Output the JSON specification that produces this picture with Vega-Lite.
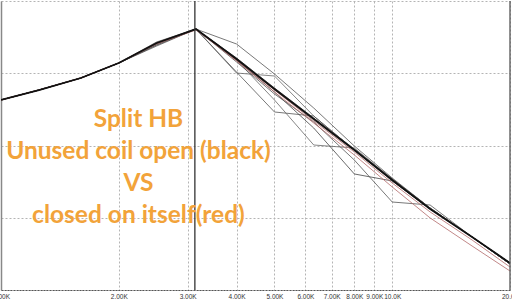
{
  "$schema": "https://vega.github.io/schema/vega-lite/v6.json",
  "width": 509,
  "height": 289,
  "autosize": "none",
  "padding": {"left": 1, "top": 1, "right": 2, "bottom": 10},
  "background": "white",
  "config": {"view": {"stroke": null}},
  "datasets": {
    "traces": [
      {"s":"B2","g":"k","f":1000,"v":-13.70},{"s":"B2","g":"k","f":1250,"v":-12.32},{"s":"B2","g":"k","f":1600,"v":-10.66},{"s":"B2","g":"k","f":2000,"v":-8.58},{"s":"B2","g":"k","f":2500,"v":-5.95},{"s":"B2","g":"k","f":3150,"v":-3.88},{"s":"B2","g":"k","f":4000,"v":-7.89},{"s":"B2","g":"k","f":5000,"v":-12.04},{"s":"B2","g":"k","f":6300,"v":-16.19},{"s":"B2","g":"k","f":8000,"v":-20.48},{"s":"B2","g":"k","f":10000,"v":-24.64},{"s":"B2","g":"k","f":12500,"v":-28.65},{"s":"B2","g":"k","f":16000,"v":-32.66},{"s":"B2","g":"k","f":20000,"v":-36.40},
      {"s":"B3","g":"k","f":1000,"v":-13.70},{"s":"B3","g":"k","f":1250,"v":-12.32},{"s":"B3","g":"k","f":1600,"v":-10.66},{"s":"B3","g":"k","f":2000,"v":-8.58},{"s":"B3","g":"k","f":2500,"v":-5.67},{"s":"B3","g":"k","f":3150,"v":-3.88},{"s":"B3","g":"k","f":4000,"v":-5.95},{"s":"B3","g":"k","f":5000,"v":-10.10},{"s":"B3","g":"k","f":6300,"v":-14.81},{"s":"B3","g":"k","f":8000,"v":-20.07},{"s":"B3","g":"k","f":10000,"v":-24.50},{"s":"B3","g":"k","f":12500,"v":-28.65},{"s":"B3","g":"k","f":16000,"v":-32.66},{"s":"B3","g":"k","f":20000,"v":-36.40},
      {"s":"B4","g":"k","f":1000,"v":-13.70},{"s":"B4","g":"k","f":1250,"v":-12.32},{"s":"B4","g":"k","f":1600,"v":-10.66},{"s":"B4","g":"k","f":2000,"v":-8.58},{"s":"B4","g":"k","f":2500,"v":-6.09},{"s":"B4","g":"k","f":3150,"v":-3.88},{"s":"B4","g":"k","f":4000,"v":-9.97},{"s":"B4","g":"k","f":5000,"v":-10.38},{"s":"B4","g":"k","f":6300,"v":-15.92},{"s":"B4","g":"k","f":8000,"v":-20.62},{"s":"B4","g":"k","f":10000,"v":-24.78},{"s":"B4","g":"k","f":12500,"v":-28.79},{"s":"B4","g":"k","f":16000,"v":-32.66},{"s":"B4","g":"k","f":20000,"v":-36.26},
      {"s":"B5","g":"k","f":1000,"v":-13.70},{"s":"B5","g":"k","f":1250,"v":-12.32},{"s":"B5","g":"k","f":1600,"v":-10.66},{"s":"B5","g":"k","f":2000,"v":-8.58},{"s":"B5","g":"k","f":2500,"v":-6.23},{"s":"B5","g":"k","f":3150,"v":-3.88},{"s":"B5","g":"k","f":4000,"v":-9.83},{"s":"B5","g":"k","f":5000,"v":-15.36},{"s":"B5","g":"k","f":6300,"v":-15.92},{"s":"B5","g":"k","f":8000,"v":-20.62},{"s":"B5","g":"k","f":10000,"v":-24.91},{"s":"B5","g":"k","f":12500,"v":-28.79},{"s":"B5","g":"k","f":16000,"v":-32.66},{"s":"B5","g":"k","f":20000,"v":-36.26},
      {"s":"B6","g":"k","f":1000,"v":-13.70},{"s":"B6","g":"k","f":1250,"v":-12.32},{"s":"B6","g":"k","f":1600,"v":-10.66},{"s":"B6","g":"k","f":2000,"v":-8.58},{"s":"B6","g":"k","f":2500,"v":-5.95},{"s":"B6","g":"k","f":3150,"v":-3.88},{"s":"B6","g":"k","f":4000,"v":-8.17},{"s":"B6","g":"k","f":5000,"v":-13.70},{"s":"B6","g":"k","f":6300,"v":-19.93},{"s":"B6","g":"k","f":8000,"v":-20.35},{"s":"B6","g":"k","f":10000,"v":-24.64},{"s":"B6","g":"k","f":12500,"v":-28.65},{"s":"B6","g":"k","f":16000,"v":-32.66},{"s":"B6","g":"k","f":20000,"v":-36.26},
      {"s":"B7","g":"k","f":1000,"v":-13.70},{"s":"B7","g":"k","f":1250,"v":-12.32},{"s":"B7","g":"k","f":1600,"v":-10.66},{"s":"B7","g":"k","f":2000,"v":-8.58},{"s":"B7","g":"k","f":2500,"v":-5.81},{"s":"B7","g":"k","f":3150,"v":-3.88},{"s":"B7","g":"k","f":4000,"v":-8.17},{"s":"B7","g":"k","f":5000,"v":-12.60},{"s":"B7","g":"k","f":6300,"v":-17.58},{"s":"B7","g":"k","f":8000,"v":-23.94},{"s":"B7","g":"k","f":10000,"v":-24.91},{"s":"B7","g":"k","f":12500,"v":-28.79},{"s":"B7","g":"k","f":16000,"v":-32.66},{"s":"B7","g":"k","f":20000,"v":-36.40},
      {"s":"B9","g":"k","f":1000,"v":-13.70},{"s":"B9","g":"k","f":1250,"v":-12.32},{"s":"B9","g":"k","f":1600,"v":-10.66},{"s":"B9","g":"k","f":2000,"v":-8.58},{"s":"B9","g":"k","f":2500,"v":-6.09},{"s":"B9","g":"k","f":3150,"v":-3.88},{"s":"B9","g":"k","f":4000,"v":-8.44},{"s":"B9","g":"k","f":5000,"v":-12.87},{"s":"B9","g":"k","f":6300,"v":-16.75},{"s":"B9","g":"k","f":8000,"v":-22.01},{"s":"B9","g":"k","f":10000,"v":-27.82},{"s":"B9","g":"k","f":12500,"v":-28.24},{"s":"B9","g":"k","f":16000,"v":-32.66},{"s":"B9","g":"k","f":20000,"v":-36.40},
      {"s":"R1","g":"r","f":1000,"v":-13.70},{"s":"R1","g":"r","f":1250,"v":-12.32},{"s":"R1","g":"r","f":1600,"v":-10.66},{"s":"R1","g":"r","f":2000,"v":-8.58},{"s":"R1","g":"r","f":2500,"v":-5.81},{"s":"R1","g":"r","f":3150,"v":-3.88},{"s":"R1","g":"r","f":4000,"v":-8.30},{"s":"R1","g":"r","f":5000,"v":-12.60},{"s":"R1","g":"r","f":6300,"v":-16.89},{"s":"R1","g":"r","f":8000,"v":-21.31},{"s":"R1","g":"r","f":10000,"v":-25.74},{"s":"R1","g":"r","f":12500,"v":-30.03},{"s":"R1","g":"r","f":16000,"v":-33.91},{"s":"R1","g":"r","f":20000,"v":-37.37},
      {"s":"R2","g":"r","f":1000,"v":-13.70},{"s":"R2","g":"r","f":1250,"v":-12.32},{"s":"R2","g":"r","f":1600,"v":-10.66},{"s":"R2","g":"r","f":2000,"v":-8.58},{"s":"R2","g":"r","f":2500,"v":-5.95},{"s":"R2","g":"r","f":3150,"v":-4.01},{"s":"R2","g":"r","f":4000,"v":-8.17},{"s":"R2","g":"r","f":5000,"v":-12.32},{"s":"R2","g":"r","f":6300,"v":-16.61},{"s":"R2","g":"r","f":8000,"v":-20.90},{"s":"R2","g":"r","f":10000,"v":-25.19},{"s":"R2","g":"r","f":12500,"v":-29.20},{"s":"R2","g":"r","f":16000,"v":-33.08},{"s":"R2","g":"r","f":20000,"v":-36.82},
      {"s":"M","g":"m","f":1000,"v":-13.70},{"s":"M","g":"m","f":1250,"v":-12.32},{"s":"M","g":"m","f":1600,"v":-10.66},{"s":"M","g":"m","f":2000,"v":-8.58},{"s":"M","g":"m","f":2500,"v":-5.81},{"s":"M","g":"m","f":3150,"v":-3.88},{"s":"M","g":"m","f":4000,"v":-8.03},{"s":"M","g":"m","f":5000,"v":-12.18},{"s":"M","g":"m","f":6300,"v":-16.33},{"s":"M","g":"m","f":8000,"v":-20.62},{"s":"M","g":"m","f":10000,"v":-24.78},{"s":"M","g":"m","f":12500,"v":-28.79},{"s":"M","g":"m","f":16000,"v":-32.66},{"s":"M","g":"m","f":20000,"v":-36.26}
    ],
    "rules": [
      {"f": 3130, "c": "cursor"},
      {"f": 20000, "c": "edge"}
    ],
    "texts": [
      {"t": "Split HB", "f": 2246, "v": -17.44},
      {"t": "Unused coil open (black)", "f": 2246, "v": -21.87},
      {"t": "VS", "f": 2246, "v": -26.30},
      {"t": "closed on itself(red)", "f": 2246, "v": -30.73}
    ]
  },
  "layer": [
    {
      "data": {"name": "traces"},
      "transform": [{"filter": "datum.g == 'k'"}],
      "mark": {"type": "line", "strokeWidth": 0.8, "clip": true},
      "encoding": {
        "x": {
          "field": "f", "type": "quantitative",
          "scale": {"type": "log", "domain": [1000, 20000], "nice": false},
          "axis": {
            "values": [1000, 2000, 3000, 4000, 5000, 6000, 7000, 8000, 9000, 10000, 20000],
            "title": null,
            "labelExpr": "datum.value >= 10000 ? format(datum.value / 1000, '.1f') + 'K' : format(datum.value / 1000, '.2f') + 'K'",
            "grid": true, "gridDash": [2, 2], "gridColor": "#b4b4b4", "gridWidth": 1,
            "ticks": false, "domainColor": "#555", "domainDash": [2, 1], "domainWidth": 1,
            "labelFont": "Liberation Sans", "labelFontSize": 6.5, "labelColor": "#333", "labelPadding": 3,
            "labelOverlap": false, "labelBound": false, "labelFlush": false
          }
        },
        "y": {
          "field": "v", "type": "quantitative",
          "scale": {"domain": [-40, 0], "nice": false, "zero": false},
          "axis": {
            "values": [-40, -30, -20, -10, 0],
            "labels": false, "ticks": false, "title": null,
            "grid": true, "gridDash": [2, 2], "gridColor": "#b4b4b4", "gridWidth": 1,
            "domainColor": "#888", "domainWidth": 1.5
          }
        },
        "color": {
          "field": "s", "type": "nominal", "legend": null,
          "scale": {"domain": ["B2", "B3", "B4", "B5", "B6", "B7", "B9"], "range": ["#333333", "#555555", "#666666", "#555555", "#666666", "#444444", "#555555"]}
        }
      }
    },
    {
      "data": {"name": "traces"},
      "transform": [{"filter": "datum.g == 'r'"}],
      "mark": {"type": "line", "strokeWidth": 0.8, "clip": true},
      "encoding": {
        "x": {"field": "f", "type": "quantitative"},
        "y": {"field": "v", "type": "quantitative"},
        "detail": {"field": "s", "type": "nominal"},
        "color": {"value": "#b26a6a"}
      }
    },
    {
      "data": {"name": "traces"},
      "transform": [{"filter": "datum.g == 'm'"}],
      "mark": {"type": "line", "strokeWidth": 1.8, "color": "#111111", "clip": true},
      "encoding": {
        "x": {"field": "f", "type": "quantitative"},
        "y": {"field": "v", "type": "quantitative"}
      }
    },
    {
      "data": {"name": "rules"},
      "mark": {"type": "rule"},
      "encoding": {
        "x": {"field": "f", "type": "quantitative"},
        "color": {"field": "c", "type": "nominal", "legend": null, "scale": {"domain": ["cursor", "edge"], "range": ["#8a8a8a", "#c4c4c4"]}},
        "strokeWidth": {"value": 1.3}
      }
    },
    {
      "data": {"name": "texts"},
      "mark": {"type": "text", "font": "Lato", "fontWeight": "bold", "fontSize": 24.5, "align": "center", "baseline": "alphabetic", "color": "#f2a33a"},
      "encoding": {
        "x": {"field": "f", "type": "quantitative"},
        "y": {"field": "v", "type": "quantitative"},
        "text": {"field": "t", "type": "nominal"}
      }
    }
  ]
}
